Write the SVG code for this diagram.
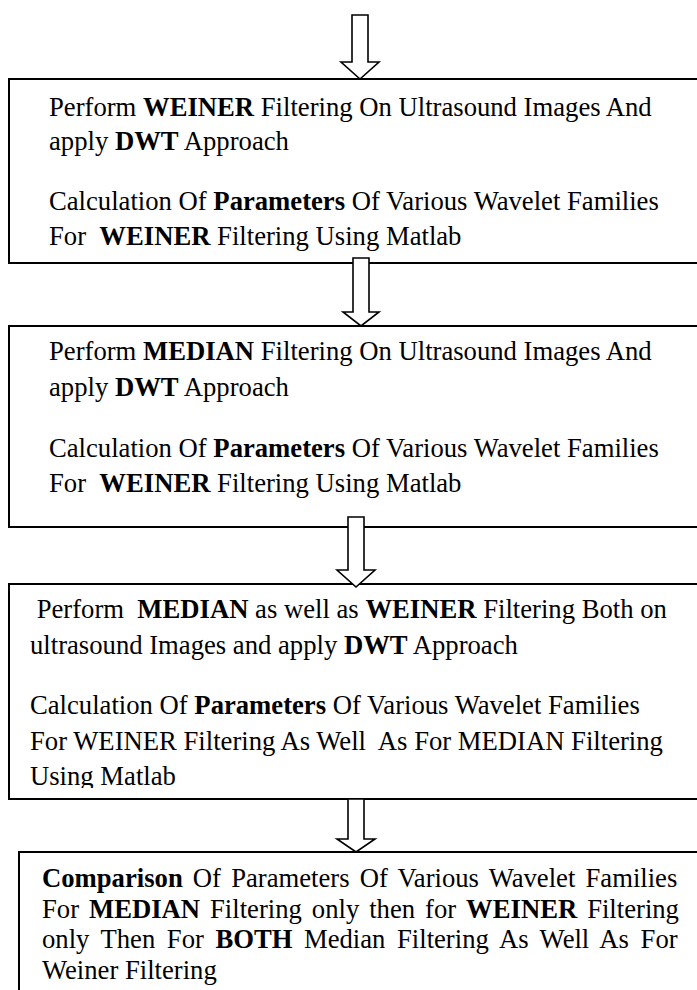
<svg xmlns="http://www.w3.org/2000/svg" width="697" height="990" viewBox="0 0 697 990">
<style>
.box{fill:#fff;stroke:#000;stroke-width:2}
.arr{fill:#fff;stroke:#000;stroke-width:1.6;stroke-linejoin:miter}
text{font-family:"Liberation Serif","Times New Roman",serif;font-size:26.67px;fill:#000;white-space:pre}
.b{font-weight:bold}
</style>
<defs>
<clipPath id="c3"><rect x="0" y="584" width="697" height="204"/></clipPath>
</defs>
<g id="box1">
<rect class="box" x="9" y="79" width="700" height="184"/>
<text x="49" y="116" xml:space="preserve">Perform <tspan class="b">WEINER</tspan> Filtering On Ultrasound Images And</text>
<text x="49" y="150" xml:space="preserve">apply <tspan class="b">DWT</tspan> Approach</text>
<text x="49" y="210" xml:space="preserve">Calculation Of <tspan class="b">Parameters</tspan> Of Various Wavelet Families</text>
<text x="49" y="245" xml:space="preserve">For  <tspan class="b">WEINER</tspan> Filtering Using Matlab</text>
</g>
<g id="box2">
<rect class="box" x="9" y="326" width="700" height="201"/>
<text x="49" y="360" xml:space="preserve">Perform <tspan class="b">MEDIAN</tspan> Filtering On Ultrasound Images And</text>
<text x="49" y="396" xml:space="preserve">apply <tspan class="b">DWT</tspan> Approach</text>
<text x="49" y="457" xml:space="preserve">Calculation Of <tspan class="b">Parameters</tspan> Of Various Wavelet Families</text>
<text x="49" y="492" xml:space="preserve">For  <tspan class="b">WEINER</tspan> Filtering Using Matlab</text>
</g>
<g id="box3">
<rect class="box" x="9" y="584" width="700" height="215"/>
<g clip-path="url(#c3)">
<text x="30" y="618" xml:space="preserve"> Perform  <tspan class="b">MEDIAN</tspan> as well as <tspan class="b">WEINER</tspan> Filtering Both on</text>
<text x="30" y="654" xml:space="preserve">ultrasound Images and apply <tspan class="b">DWT</tspan> Approach</text>
<text x="30" y="714" xml:space="preserve">Calculation Of <tspan class="b">Parameters</tspan> Of Various Wavelet Families</text>
<text x="30" y="750" xml:space="preserve">For WEINER Filtering As Well  As For MEDIAN Filtering</text>
<text x="30" y="785" xml:space="preserve">Using Matlab</text>
</g>
</g>
<g id="box4">
<rect class="box" x="19" y="852" width="700" height="160"/>
<text x="42" y="887" word-spacing="3.5"><tspan class="b">Comparison</tspan> Of Parameters Of Various Wavelet Families</text>
<text x="42" y="918" word-spacing="3.3">For <tspan class="b">MEDIAN</tspan> Filtering only then for <tspan class="b">WEINER</tspan> Filtering</text>
<text x="42" y="948" word-spacing="4.9">only Then For <tspan class="b">BOTH</tspan> Median Filtering As Well As For</text>
<text x="42" y="979">Weiner Filtering</text>
</g>
<g id="connectors">
<polygon class="arr" points="352,15 368,15 368,62 379,62 360,79 341,62 352,62"/>
<polygon class="arr" points="353,258 369,258 369,312 379,312 361,326 343,312 353,312"/>
<polygon class="arr" points="348,517 364,517 364,570 375,570 356,587 337,570 348,570"/>
<polygon class="arr" points="348,799 364,799 364,839 375,839 356,852 337,839 348,839"/>
</g>
</svg>
